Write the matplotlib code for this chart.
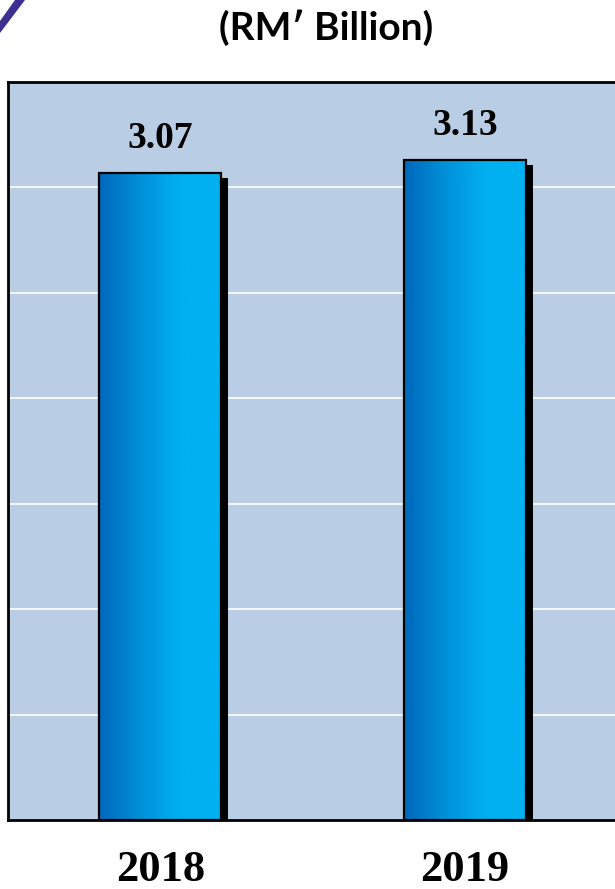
import numpy as np
import matplotlib.pyplot as plt
from matplotlib.patches import Rectangle, Polygon
from matplotlib.colors import LinearSegmentedColormap

# data
years = ['2018', '2019']
values = [3.07, 3.13]

W, H = 615, 889
fig = plt.figure(figsize=(W / 100, H / 100), dpi=100)

# axes in pixel terms: left 8, right 617, top 82, bottom 820
ax = fig.add_axes([8 / W, 1 - 820 / H, 609 / W, 738 / H])
ax.set_facecolor('#B9CDE4')
ax.set_xlim(-0.5, 1.5)
ax.set_ylim(0, 3.5)

for y in np.arange(0.5, 3.5, 0.5):
    ax.axhline(y, color='white', lw=1.2, zorder=1)

cmap = LinearSegmentedColormap.from_list('bar', ['#0068BC', '#0090D8', '#00B0F0', '#00B0F0'])
grad = np.tile(np.linspace(0, 1, 200), (2, 1))

bw = 0.4
px_x = 2.0 / 609  # data units per px (x)
px_y = 3.5 / 738  # data units per px (y)
for i, v in enumerate(values):
    x0 = i - bw / 2
    # shadow
    ax.add_patch(Rectangle((x0 + 7 * px_x, 0), bw, v - 5 * px_y,
                           facecolor='black', edgecolor='none', zorder=2))
    ax.imshow(grad, cmap=cmap, extent=[x0, x0 + bw, 0, v], aspect='auto',
              interpolation='bilinear', zorder=3)
    ax.add_patch(Rectangle((x0, 0), bw, v, facecolor='none',
                           edgecolor='black', lw=1.6, zorder=4))
    ax.text(i, v + 25 * px_y, f'{v:.2f}', ha='center', va='baseline',
            fontsize=27, fontweight='bold', family='Liberation Serif')

# year labels near the bottom edge
for i, yr in enumerate(years):
    ax.text(i, (820 - 881) / 738, yr, transform=ax.get_xaxis_transform(),
            ha='center', va='baseline', fontsize=32, fontweight='bold',
            family='Liberation Serif')

ax.set_xlim(-0.5, 1.5)
ax.set_ylim(0, 3.5)
ax.set_xticks([])
ax.set_yticks([])
for s in ax.spines.values():
    s.set_color('black')
    s.set_linewidth(2)

fig.text(326 / W, 1 - 28 / H, '(RM\u2032 Billion)', ha='center', va='center',
         fontsize=28, fontweight='bold', family='Lato')

# purple corner decoration
fig.patches.append(Polygon([(0, 1 - 33 / H), (0, 1 - 21 / H), (15 / W, 1), (25 / W, 1)],
                           closed=True, transform=fig.transFigure,
                           facecolor='#3C2F8F', edgecolor='none'))

fig.savefig('out.png', dpi=100)
